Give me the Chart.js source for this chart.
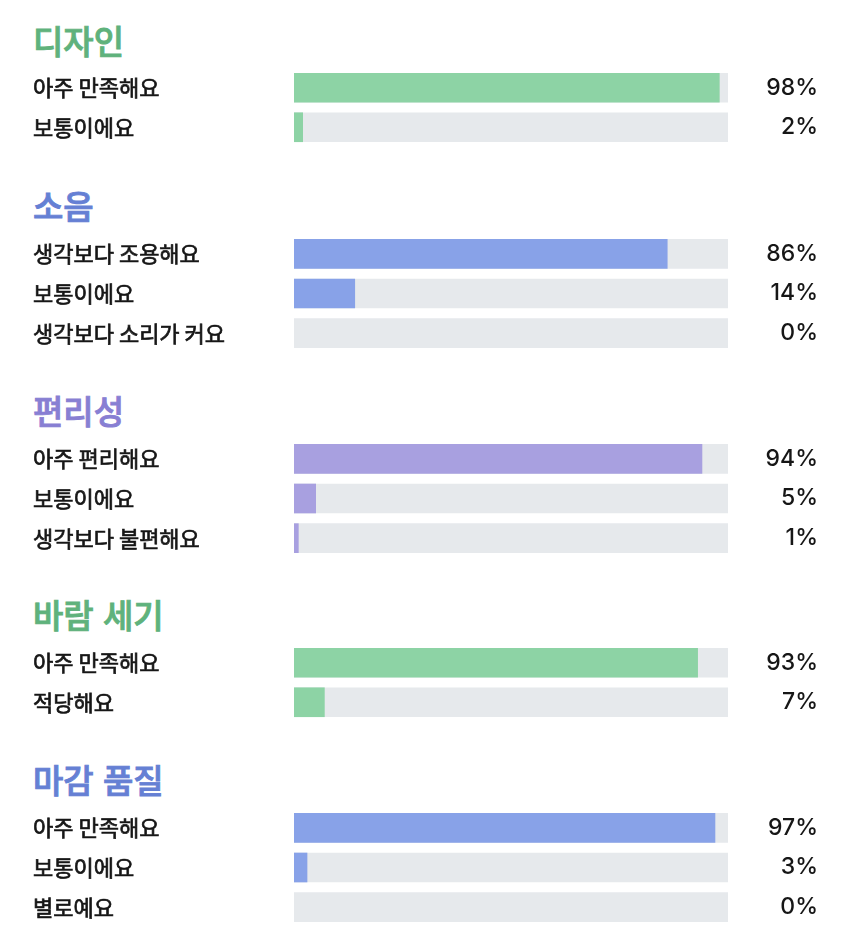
<!DOCTYPE html>
<html lang="ko">
<head>
<meta charset="utf-8">
<script src="https://cdn.jsdelivr.net/npm/chart.js@4/dist/chart.umd.min.js"></script>
<style>
  html, body { margin: 0; padding: 0; background: #ffffff; }
  body { width: 850px; height: 946px; position: relative; overflow: hidden;
         font-family: "Noto Sans CJK KR", "Noto Sans", sans-serif; }
  .title { position: absolute; left: 33px; font-size: 33px; font-weight: 500; line-height: 40px; -webkit-text-stroke-width: 0.9px; }
  .box { position: absolute; left: 0; width: 850px; }
</style>
</head>
<body>
<script>
// ---- data ----
const sectionTitles = ['디자인', '소음', '편리성', '바람 세기', '마감 품질'];

const designLabels = ['아주 만족해요', '보통이에요'];
const designValues = [98, 2];

const noiseLabels = ['생각보다 조용해요', '보통이에요', '생각보다 소리가 커요'];
const noiseValues = [86, 14, 0];

const convenienceLabels = ['아주 편리해요', '보통이에요', '생각보다 불편해요'];
const convenienceValues = [94, 5, 1];

const windLabels = ['아주 만족해요', '적당해요'];
const windValues = [93, 7];

const finishLabels = ['아주 만족해요', '보통이에요', '별로예요'];
const finishValues = [97, 3, 0];

// ---- styling / layout ----
const GREEN = '#8dd3a5', BLUE = '#88a2e8', PURPLE = '#a8a0e0';
const GREEN_T = '#5fb27c', BLUE_T = '#6580d4', PURPLE_T = '#887fd3';
const TRACK = '#e6e9ec';
const TEXT = '#161616';

const sections = [
  { title: sectionTitles[0], labels: designLabels, values: designValues, color: GREEN, tcolor: GREEN_T, titleY: 20, top: 68 },
  { title: sectionTitles[1], labels: noiseLabels, values: noiseValues, color: BLUE, tcolor: BLUE_T, titleY: 185, top: 234 },
  { title: sectionTitles[2], labels: convenienceLabels, values: convenienceValues, color: PURPLE, tcolor: PURPLE_T, titleY: 390, top: 439 },
  { title: sectionTitles[3], labels: windLabels, values: windValues, color: GREEN, tcolor: GREEN_T, titleY: 594, top: 643 },
  { title: sectionTitles[4], labels: finishLabels, values: finishValues, color: BLUE, tcolor: BLUE_T, titleY: 759, top: 808 }
];
const ROW_H = 39.7;
const FONT = '"Noto Sans CJK KR", "Noto Sans", sans-serif';
const NUM_FONT = 'Inter, "Noto Sans", sans-serif';

const noPad = (w) => (sc) => { sc.width = w; sc.paddingTop = 0; sc.paddingBottom = 0; };

sections.forEach((s, idx) => {
  const t = document.createElement('div');
  t.className = 'title';
  t.style.top = s.titleY + 'px';
  t.style.color = s.tcolor;
  t.style.webkitTextStrokeColor = s.tcolor;
  t.textContent = s.title;
  document.body.appendChild(t);

  const h = Math.round(ROW_H * s.labels.length);
  const box = document.createElement('div');
  box.className = 'box';
  box.style.top = s.top + 'px';
  box.style.height = h + 'px';
  const c = document.createElement('canvas');
  box.appendChild(c);
  document.body.appendChild(box);

  new Chart(c, {
    type: 'bar',
    data: {
      labels: s.labels,
      datasets: [
        { data: s.values, backgroundColor: s.values.map(v => v === 0 ? 'rgba(0,0,0,0)' : s.color), barThickness: 29, grouped: false, borderWidth: 0 },
        { data: s.labels.map(() => 100), backgroundColor: TRACK, barThickness: 29, grouped: false, borderWidth: 0 }
      ]
    },
    options: {
      indexAxis: 'y',
      responsive: true,
      maintainAspectRatio: false,
      animation: false,
      events: [],
      layout: { padding: { left: 33, right: 32, top: 0, bottom: 0 } },
      plugins: { legend: { display: false }, tooltip: { enabled: false } },
      scales: {
        x: { display: false, min: 0, max: 100 },
        y: {
          position: 'left',
          grid: { display: false, drawTicks: false },
          border: { display: false },
          ticks: { autoSkip: false, crossAlign: 'far', color: TEXT, textStrokeColor: TEXT, textStrokeWidth: 0.7,
                   font: { family: FONT, size: 22, weight: 'normal' }, padding: 0 },
          afterFit: noPad(261)
        },
        y2: {
          type: 'category',
          position: 'right',
          labels: s.values.map(v => v + '%'),
          grid: { display: false, drawTicks: false },
          border: { display: false },
          ticks: { autoSkip: false, crossAlign: 'far', color: TEXT, font: { family: NUM_FONT, size: 23, weight: 500 }, padding: 0 },
          afterFit: noPad(90)
        }
      }
    }
  });
});
</script>
</body>
</html>
